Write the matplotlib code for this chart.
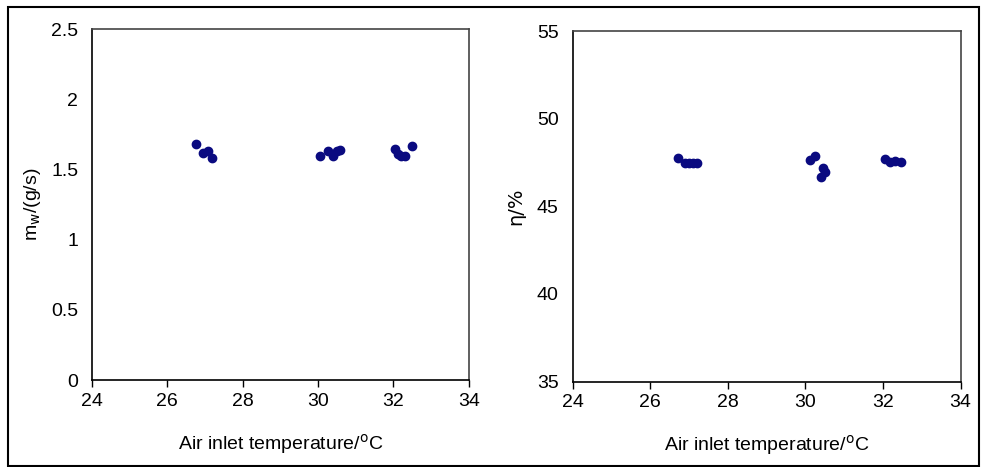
import matplotlib.pyplot as plt
from matplotlib.patches import Rectangle

# water consumption m_w (g/s) against air inlet temperature
mw_temp = [26.75, 26.95, 27.07, 27.19,
           30.05, 30.26, 30.39, 30.5, 30.58,
           32.04, 32.12, 32.2, 32.3, 32.5]
mw_vals = [1.68, 1.62, 1.63, 1.58,
           1.60, 1.63, 1.60, 1.63, 1.64,
           1.65, 1.61, 1.60, 1.60, 1.67]

# efficiency eta (%) against air inlet temperature
eta_temp = [26.72, 26.9, 27.0, 27.1, 27.2,
            30.11, 30.24, 30.45, 30.5, 30.41,
            32.04, 32.17, 32.3, 32.47]
eta_vals = [47.73, 47.45, 47.45, 47.45, 47.45,
            47.65, 47.85, 47.2, 46.96, 46.68,
            47.7, 47.55, 47.6, 47.53]

plt.rcParams['font.family'] = ['Liberation Sans', 'DejaVu Sans']
plt.rcParams['mathtext.fontset'] = 'dejavusans'

navy = '#0a0a80'

fig = plt.figure(figsize=(9.81, 4.67), dpi=100)
ax1 = fig.add_axes([0.0938, 0.186, 0.384, 0.751])
ax2 = fig.add_axes([0.5837, 0.183, 0.3955, 0.7505])

ax1.plot(mw_temp, mw_vals, 'o', color=navy, markersize=6)
ax1.set_xlim(24, 34)
ax1.set_ylim(0, 2.5)
ax1.set_xticks([24, 26, 28, 30, 32, 34])
ax1.set_yticks([0, 0.5, 1, 1.5, 2, 2.5])
ax1.set_yticklabels(['0', '0.5', '1', '1.5', '2', '2.5'])
ax1.set_ylabel('m$_{\\rm w}$/(g/s)', fontsize=14, labelpad=6)

ax2.plot(eta_temp, eta_vals, 'o', color=navy, markersize=6)
ax2.set_xlim(24, 34)
ax2.set_ylim(35, 55)
ax2.set_xticks([24, 26, 28, 30, 32, 34])
ax2.set_yticks([35, 40, 45, 50, 55])
ax2.set_ylabel('η/%', fontsize=14, labelpad=8, family=['DejaVu Sans'])

for ax in (ax1, ax2):
    ax.set_xlabel('Air inlet temperature/$^{\\rm o}$C', fontsize=14, labelpad=16)
    ax.tick_params(axis='both', direction='out', length=5, width=1, labelsize=14, pad=4)
    ax.tick_params(axis='y', length=0, pad=10)
    for s in ax.spines.values():
        s.set_linewidth(1.2)
    ax.spines['top'].set_color('#444444')
    ax.spines['right'].set_color('#444444')

# outer frame round the whole figure
fig.patches.append(Rectangle((0.008, 0.002), 0.99, 0.984, transform=fig.transFigure,
                             fill=False, edgecolor='black', linewidth=1.5))

fig.savefig('out.png', dpi=100)
